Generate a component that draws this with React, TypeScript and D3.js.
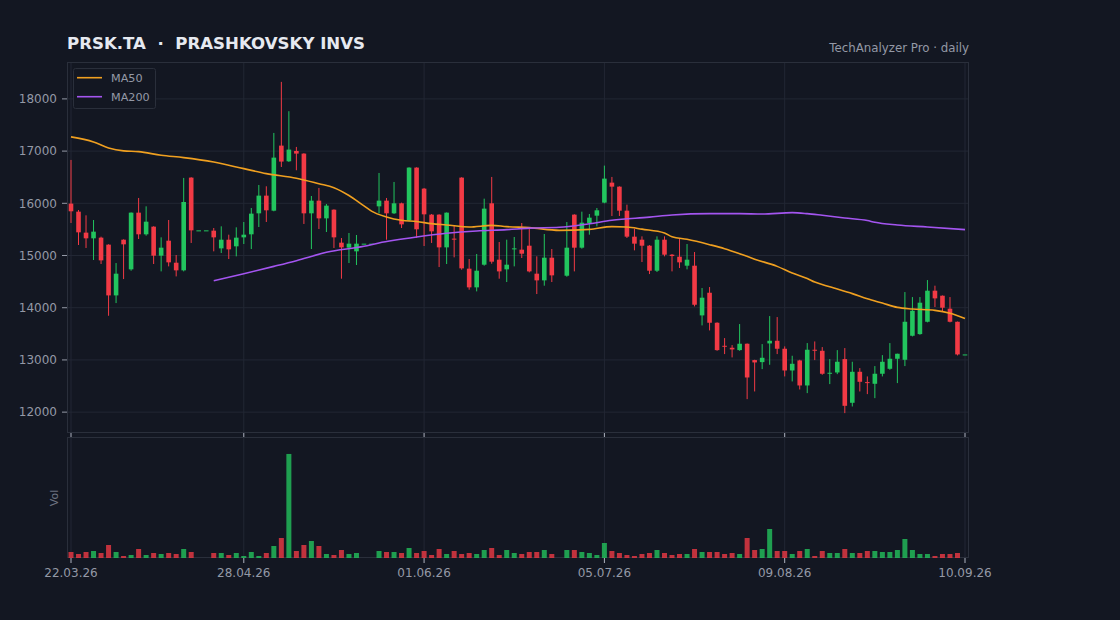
import React from 'react';
import * as d3 from 'd3';

const TICK_INDEX = [0, 23, 47, 71, 95, 119];
const TICK_LABELS = ['22.03.26', '28.04.26', '01.06.26', '05.07.26', '09.08.26', '10.09.26'];

const OPEN = [15994, 15840, 15438, 15329, 15342, 15208, 14236, 15303, 14735, 15821, 15406, 15553, 14997, 15284, 14862, 14716, 16492, 15482, 15482, 15476, 15137, 15303, 15176, 15348, 15406, 15808, 16147, 15859, 17105, 16805, 17003, 16952, 15808, 16051, 15712, 15878, 15246, 15150, 15080, 15227, 15227, 15942, 16051, 15808, 16000, 15674, 16684, 16281, 15783, 15783, 15156, 15323, 16492, 14748, 14390, 14824, 16000, 14920, 14735, 15124, 15112, 15188, 14652, 14524, 14958, null, 14613, 15783, 15150, 15623, 15763, 16013, 16396, 16319, 15859, 15361, 15303, 15188, 14709, 15303, 15016, 14977, 14805, 14805, 13853, 14287, 13712, 13271, 13233, 13188, 13310, 12997, 12958, 13316, 13367, 13214, 12798, 12990, 12511, 13195, 13175, 12741, 12760, 13016, 12179, 12773, 12575, 12543, 12735, 12830, 13022, 13003, 13463, 13495, 13731, 14326, 14230, 13981, 13731, 13105];
const HIGH = [16831, 15872, 15770, 15680, 15361, 15215, 14856, 15310, 15825, 16102, 15942, 15560, 15348, 15680, 15010, 16486, 16500, 15482, 15482, 15527, 15559, 15399, 15540, 15642, 15910, 16351, 16326, 17348, 18326, 17764, 17080, 16960, 16140, 16294, 15987, 15885, 15335, 15431, 15393, 15227, 15227, 16581, 16102, 16409, 16013, 16690, 16690, 16294, 15795, 15790, 15825, 15578, 16500, 14933, 15029, 16089, 16505, 15259, 15303, 15355, 15623, 15527, 14984, 15412, 15124, null, 15642, 15790, 15840, 15795, 15910, 16722, 16505, 16325, 15974, 15514, 15367, 15200, 15367, 15367, 15029, 15323, 15220, 15067, 14377, 14396, 13720, 13418, 13284, 13687, 13315, 13003, 13303, 13840, 13821, 13259, 13080, 13003, 13323, 13354, 13246, 13016, 13188, 13227, 12965, 12843, 12684, 12882, 13092, 13323, 13120, 14300, 14204, 14204, 14530, 14422, 14235, 14204, 13735, 13105];
const LOW = [15623, 15201, 15144, 14914, 14837, 13846, 14089, 14549, 14709, 15316, 15380, 14837, 14696, 14792, 14600, 14696, 15240, 15482, 15482, 15080, 15048, 14933, 14984, 15220, 15124, 15546, 15642, 15847, 16696, 16792, 16633, 15604, 15124, 15508, 15450, 15144, 14556, 14856, 14818, 15227, 15227, 15808, 15303, 15795, 15527, 15655, 15335, 15182, 15240, 14779, 14837, 14965, 14728, 14345, 14313, 14805, 14843, 14556, 14492, 14792, 14952, 14677, 14262, 14422, 14492, null, 14594, 14696, 15131, 15399, 15559, 16000, 15757, 15757, 15335, 15099, 14875, 14645, 14684, 14984, 14696, 14760, 14735, 14025, 13661, 13565, 13175, 13112, 13048, 13175, 12249, 12396, 12824, 12907, 13112, 12684, 12588, 12434, 12364, 12997, 12716, 12537, 12728, 11981, 12108, 12396, 12345, 12268, 12684, 12811, 12556, 12882, 13450, 13482, 13719, 14013, 13917, 13719, 13086, 13105];
const CLOSE = [15847, 15444, 15329, 15457, 14907, 14236, 14652, 15214, 15821, 15406, 15648, 14997, 15150, 14869, 14716, 16025, 15482, 15482, 15482, 15348, 15303, 15118, 15342, 15399, 15802, 16147, 15866, 16875, 16799, 17029, 16952, 15808, 16051, 15712, 15955, 15348, 15156, 15227, 15227, 15227, 15227, 16051, 15808, 16000, 15597, 16684, 15502, 15789, 15463, 15156, 15821, 15310, 14754, 14390, 14709, 15898, 14882, 14696, 14824, 15137, 15035, 14696, 14524, 14958, 14620, null, 15150, 15150, 15629, 15725, 15866, 16473, 16319, 15859, 15361, 15227, 15188, 14709, 15303, 15016, 14990, 14869, 14920, 14057, 14192, 13712, 13188, 13259, 13201, 13310, 12664, 12952, 13041, 13367, 13214, 12798, 12926, 12511, 13195, 13182, 12735, 12754, 12965, 12121, 12773, 12581, 12556, 12735, 12965, 13022, 13118, 13731, 13942, 14096, 14326, 14179, 14000, 13731, 13105, 13105];
const VOLUME_K = [18, 12, 18, 21, 15, 39, 18, 6, 9, 27, 9, 15, 12, 15, 12, 27, 18, 0, 0, 15, 15, 9, 15, 6, 18, 6, 15, 36, 60, 312, 21, 39, 51, 36, 12, 9, 24, 12, 15, 0, 0, 21, 18, 18, 15, 30, 15, 21, 9, 27, 12, 21, 12, 15, 12, 24, 30, 9, 24, 15, 12, 18, 18, 24, 12, 0, 24, 24, 18, 15, 9, 45, 21, 15, 9, 6, 12, 15, 24, 15, 9, 12, 12, 27, 18, 18, 18, 12, 15, 12, 60, 24, 27, 87, 21, 21, 12, 21, 27, 6, 21, 15, 15, 27, 15, 15, 21, 21, 18, 18, 24, 57, 24, 12, 12, 6, 12, 12, 15, 0];

const MA50_INDEX = [0, 3, 5, 7, 9, 12, 15, 19, 23, 26, 30, 33, 35, 37, 39, 40, 42, 44, 46, 48, 50, 53, 56, 58, 61, 65, 69, 72, 74, 76, 79, 80, 82, 85, 87, 89, 91, 94, 96, 98, 99, 101, 104, 106, 108, 110, 112, 115, 117, 119];
const MA50_VALUE = [17272, 17175, 17061, 17005, 16990, 16920, 16875, 16790, 16664, 16569, 16480, 16375, 16300, 16150, 15950, 15850, 15738, 15674, 15652, 15610, 15585, 15546, 15578, 15553, 15535, 15482, 15500, 15553, 15546, 15505, 15431, 15360, 15310, 15208, 15131, 15035, 14930, 14792, 14664, 14560, 14492, 14400, 14270, 14172, 14089, 14006, 13975, 13949, 13895, 13795];
const MA200_INDEX = [19, 23, 27, 30, 34, 39, 41, 43, 46, 50, 54, 58, 61, 65, 69, 72, 77, 80, 85, 89, 92, 96, 98, 100, 103, 106, 107, 110, 114, 119];
const MA200_VALUE = [14517, 14652, 14792, 14901, 15061, 15176, 15240, 15291, 15355, 15425, 15470, 15495, 15524, 15540, 15610, 15674, 15735, 15776, 15802, 15802, 15795, 15821, 15802, 15770, 15719, 15670, 15636, 15585, 15546, 15495];

const BG = '#131722';
const GRID = '#222734';
const FRAME = '#2a2f3b';
const AXIS_TEXT = '#9499a6';
const UP = '#22c55e';
const DOWN = '#f23a45';
const MA50_COLOR = '#f0a020';
const MA200_COLOR = '#a455f0';
const FONT = '"DejaVu Sans", sans-serif';

export default function App() {
  const W = 1120;
  const H = 620;
  const left = 67;
  const right = 969;
  const priceTop = 62;
  const priceBottom = 433;
  const volTop = 437;
  const volBottom = 558;
  const n = OPEN.length;

  const x = d3.scaleLinear().domain([0, n - 1]).range([71, 965]);
  const lo = d3.min(LOW.filter((v) => v != null) as number[]) as number;
  const hi = d3.max(HIGH.filter((v) => v != null) as number[]) as number;
  const pad = (hi - lo) * 0.06;
  const y = d3.scaleLinear().domain([lo - pad, hi + pad]).range([priceBottom, priceTop]);
  const vmax = d3.max(VOLUME_K) as number;
  const yv = d3.scaleLinear().domain([0, vmax * 1.163]).range([volBottom, volTop]);
  const yTicks = y.ticks(7);

  const bodyW = 4.6;
  const line = d3
    .line<[number, number]>()
    .x((d) => x(d[0]))
    .y((d) => y(d[1]))
    .curve(d3.curveMonotoneX);
  const ma50 = line(MA50_INDEX.map((i, k) => [i, MA50_VALUE[k]] as [number, number])) || '';
  const ma200 = line(MA200_INDEX.map((i, k) => [i, MA200_VALUE[k]] as [number, number])) || '';

  const idx = d3.range(n);

  return (
    <svg
      width={W}
      height={H}
      style={{ position: 'fixed', left: 0, top: 0, display: 'block' }}
      fontFamily={FONT}
    >
      <rect x={0} y={0} width={W} height={H} fill={BG} />

      <text x={67} y={48.5} fill="#e6e9f0" fontSize={16.6} fontWeight="bold" style={{ whiteSpace: 'pre' }}>
        {'PRSK.TA  ·  PRASHKOVSKY INVS'}
      </text>
      <text x={969} y={52} fill={AXIS_TEXT} fontSize={11.8} textAnchor="end">
        TechAnalyzer Pro · daily
      </text>

      {/* grid */}
      {yTicks.map((t) => (
        <line key={'hg' + t} x1={left} x2={right} y1={y(t)} y2={y(t)} stroke={GRID} strokeWidth={1} />
      ))}
      {TICK_INDEX.map((i) => (
        <g key={'vg' + i}>
          <line x1={x(i)} x2={x(i)} y1={priceTop} y2={priceBottom} stroke={GRID} strokeWidth={1} />
          <line x1={x(i)} x2={x(i)} y1={volTop} y2={volBottom} stroke={GRID} strokeWidth={1} />
        </g>
      ))}

      {/* frames */}
      <rect x={left + 0.5} y={priceTop + 0.5} width={right - left - 1} height={priceBottom - priceTop - 1} fill="none" stroke={FRAME} />
      <rect x={left + 0.5} y={volTop + 0.5} width={right - left - 1} height={volBottom - volTop - 1} fill="none" stroke={FRAME} />

      {/* y axis */}
      {yTicks.map((t) => (
        <g key={'yt' + t}>
          <line x1={62} x2={67} y1={y(t)} y2={y(t)} stroke={AXIS_TEXT} />
          <text x={57} y={y(t)} dy="0.35em" fill={AXIS_TEXT} fontSize={12} textAnchor="end">
            {t}
          </text>
        </g>
      ))}

      {/* volume */}
      {idx.map((i) =>
        VOLUME_K[i] > 0 && CLOSE[i] != null ? (
          <rect
            key={'v' + i}
            x={x(i) - 2.5}
            width={5}
            y={yv(VOLUME_K[i])}
            height={volBottom - yv(VOLUME_K[i])}
            fill={(CLOSE[i] as number) >= (OPEN[i] as number) ? UP : DOWN}
            fillOpacity={0.78}
          />
        ) : null
      )}

      {/* candles */}
      {idx.map((i) => {
        const o = OPEN[i];
        const c = CLOSE[i];
        const h = HIGH[i];
        const l = LOW[i];
        if (o == null || c == null || h == null || l == null) return null;
        const col = c >= o ? UP : DOWN;
        const top = y(Math.max(o, c));
        const bh = Math.max(1, Math.abs(y(o) - y(c)));
        return (
          <g key={'c' + i}>
            <line x1={x(i)} x2={x(i)} y1={y(h)} y2={y(l)} stroke={col} strokeWidth={1} />
            <rect x={x(i) - bodyW / 2} y={top} width={bodyW} height={bh} fill={col} />
          </g>
        );
      })}

      {/* moving averages */}
      <path d={ma50} fill="none" stroke={MA50_COLOR} strokeWidth={1.6} />
      <path d={ma200} fill="none" stroke={MA200_COLOR} strokeWidth={1.6} />

      {/* legend */}
      <rect x={73.5} y={68.5} width={82} height={40} rx={2} fill={BG} stroke={FRAME} />
      <line x1={77} x2={102} y1={77.7} y2={77.7} stroke={MA50_COLOR} strokeWidth={1.6} />
      <text x={111} y={77.7} dy="0.35em" fill={AXIS_TEXT} fontSize={11.2}>MA50</text>
      <line x1={77} x2={102} y1={96.7} y2={96.7} stroke={MA200_COLOR} strokeWidth={1.6} />
      <text x={111} y={96.7} dy="0.35em" fill={AXIS_TEXT} fontSize={11.2}>MA200</text>

      {/* x axis */}
      {TICK_INDEX.map((i, k) => (
        <g key={'xt' + i}>
          <line x1={x(i)} x2={x(i)} y1={priceBottom} y2={priceBottom + 4} stroke="#aeb3c0" />
          <line x1={x(i)} x2={x(i)} y1={volBottom} y2={volBottom + 5} stroke="#aeb3c0" />
          <text x={x(i)} y={573} dy="0.35em" fill={AXIS_TEXT} fontSize={12} textAnchor="middle">
            {TICK_LABELS[k]}
          </text>
        </g>
      ))}

      <text transform="translate(58,498) rotate(-90)" fill="#6f7482" fontSize={11} textAnchor="middle">
        Vol
      </text>
    </svg>
  );
}
